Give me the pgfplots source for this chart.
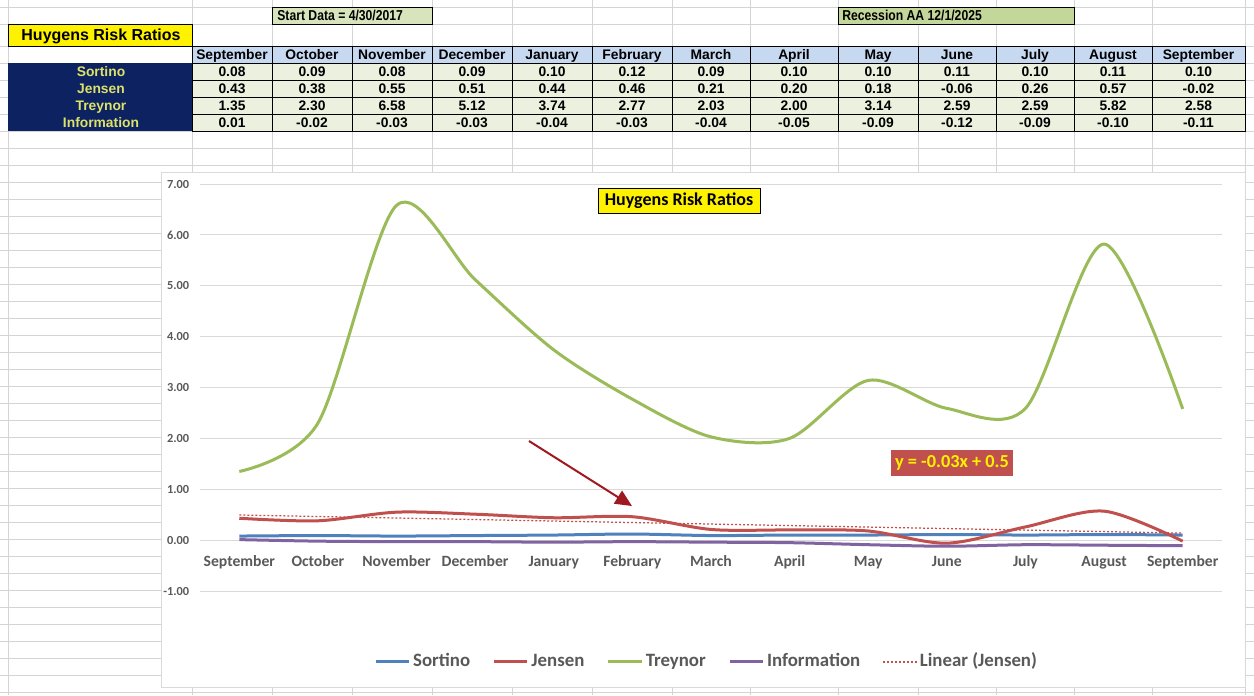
\documentclass[border=0pt]{standalone}
\usepackage{fontspec}
\setmainfont{Carlito}
\newfontfamily\arial{Liberation Sans}
\newfontfamily\arialn{Liberation Sans}[FakeStretch=0.85]
\usepackage{pgfplots}
\pgfplotsset{compat=1.18}
\usetikzlibrary{arrows.meta}

\definecolor{sortino}{HTML}{4F81BD}
\definecolor{jensen}{HTML}{C0504D}
\definecolor{treynor}{HTML}{9BBB59}
\definecolor{info}{HTML}{8064A2}
\definecolor{cellgrid}{HTML}{D4D4D4}
\definecolor{navy}{HTML}{0D2260}
\definecolor{lblyellow}{HTML}{DDE26A}
\definecolor{hdrblue}{HTML}{C6D9F0}
\definecolor{cellgreen}{HTML}{EBF1DE}
\definecolor{boxgreenA}{HTML}{D8E4BC}
\definecolor{boxgreenB}{HTML}{C4D79B}
\definecolor{axgray}{HTML}{595959}
\definecolor{gridgray}{HTML}{D9D9D9}
\definecolor{arrowred}{HTML}{A01820}

\newcommand\cellfont{\arial\bfseries\fontsize{8.3}{9}\selectfont}
% one row of the sheet table: top y (px), fill, values
\newcommand\tablerow[3]{%
  \foreach \v [count=\i] in {#3} {%
    \pgfmathsetmacro\xl{{192,272,352,432,512,592,672,750,838,918,996,1074,1152}[\i-1]}%
    \pgfmathsetmacro\xr{{272,352,432,512,592,672,750,838,918,996,1074,1152,1245}[\i-1]}%
    \draw[black, line width=0.6pt, fill=#2] (\xl,#1) rectangle (\xr,#1+17);
    \node[font=\cellfont, anchor=base, inner sep=0pt] at ({(\xl+\xr)/2},#1+13.4) {\v};
  }}

\begin{document}
\begin{tikzpicture}
% spreadsheet, in pixel units (y downwards)
\begin{scope}[x=0.6pt,y=-0.6pt]
\path[use as bounding box] (0,0) rectangle (1254,695);
\fill[white] (0,0) rectangle (1254,695);
\foreach \yy in {7,24,46,63,...,692}
  \draw[cellgrid, line width=0.6pt] (0,\yy) -- (1254,\yy);
\foreach \xx in {8,192,272,352,432,512,592,672,750,838,918,996,1074,1152,1245}
  \draw[cellgrid, line width=0.6pt] (\xx,0) -- (\xx,695);

\draw[black, line width=0.6pt, fill=boxgreenA] (272,7) rectangle (432,24);
\node[anchor=base west, inner sep=0pt, font=\arialn\bfseries\fontsize{8.6}{9}\selectfont] at (277,20.5) {Start Data = 4/30/2017};
\draw[black, line width=0.6pt, fill=boxgreenB] (838,7) rectangle (1074,24);
\node[anchor=base west, inner sep=0pt, font=\arialn\bfseries\fontsize{8.6}{9}\selectfont] at (842,20.5) {Recession AA 12/1/2025};

\draw[black, line width=0.6pt, fill=yellow] (8,24) rectangle (192,46);
\node[anchor=base, inner sep=0pt, font=\arial\bfseries\fontsize{9.6}{11}\selectfont] at (101,40.5) {Huygens Risk Ratios};

\fill[navy] (8,63) rectangle (192,131);
\foreach \lab [count=\i] in {Sortino,Jensen,Treynor,Information}
  \node[font=\cellfont, text=lblyellow, anchor=base, inner sep=0pt] at (101,63+17*\i-3.6) {\lab};

\tablerow{46}{hdrblue}{September,October,November,December,January,February,March,April,May,June,July,August,September}
\tablerow{63}{cellgreen}{0.08,0.09,0.08,0.09,0.10,0.12,0.09,0.10,0.10,0.11,0.10,0.11,0.10}
\tablerow{80}{cellgreen}{0.43,0.38,0.55,0.51,0.44,0.46,0.21,0.20,0.18,-0.06,0.26,0.57,-0.02}
\tablerow{97}{cellgreen}{1.35,2.30,6.58,5.12,3.74,2.77,2.03,2.00,3.14,2.59,2.59,5.82,2.58}
\tablerow{114}{cellgreen}{0.01,-0.02,-0.03,-0.03,-0.04,-0.03,-0.04,-0.05,-0.09,-0.12,-0.09,-0.10,-0.11}

% chart area
\draw[gridgray, fill=white, line width=0.6pt] (161,172) rectangle (1245,687);
\end{scope}

\begin{axis}[
    at={(120pt,-354.6pt)}, anchor=south west,
    width=613.2pt, height=244.2pt, scale only axis,
    xmin=0.5, xmax=13.5, ymin=-1, ymax=7,
    xtick={1,...,13},
    xticklabels={September,October,November,December,January,February,March,April,May,June,July,August,September},
    ytick={-1,0,...,7},
    /pgf/number format/assume math mode=true,
    yticklabel style={/pgf/number format/fixed, /pgf/number format/fixed zerofill,
        /pgf/number format/precision=2, font=\bfseries\fontsize{7.4}{9}\selectfont, text=axgray, xshift=-3pt},
    xticklabel style={font=\bfseries\fontsize{9.4}{11}\selectfont, text=axgray, anchor=center,
        text height=6.6pt, text depth=0pt, yshift=18pt},
    ymajorgrids, grid style={gridgray, line width=0.6pt},
    axis line style={draw=none}, major tick style={draw=none},
    clip=false,
    legend style={at={(0.496,-0.1744)}, anchor=center, draw=none, fill=none,
        legend columns=5, font=\bfseries\fontsize{11.3}{13}\selectfont, text=axgray,
        nodes={inner xsep=1.5pt, text height=8pt, text depth=2pt},
        /tikz/every even column/.append style={column sep=12pt}},
    legend image code/.code={\draw[#1] (0pt,0pt) -- (20pt,0pt);},
]
\addplot[sortino, line width=1.8pt, smooth] coordinates {
  (1,0.08) (2,0.09) (3,0.08) (4,0.09) (5,0.10) (6,0.12) (7,0.09) (8,0.10) (9,0.10) (10,0.11) (11,0.10) (12,0.11) (13,0.10)};
\addlegendentry{Sortino}
\addplot[jensen, line width=1.8pt, smooth] coordinates {
  (1,0.43) (2,0.38) (3,0.55) (4,0.51) (5,0.44) (6,0.46) (7,0.21) (8,0.20) (9,0.18) (10,-0.06) (11,0.26) (12,0.57) (13,-0.02)};
\addlegendentry{Jensen}
\addplot[treynor, line width=1.8pt, smooth] coordinates {
  (1,1.35) (2,2.30) (3,6.58) (4,5.12) (5,3.74) (6,2.77) (7,2.03) (8,2.00) (9,3.14) (10,2.59) (11,2.59) (12,5.82) (13,2.58)};
\addlegendentry{Treynor}
\addplot[info, line width=1.8pt, smooth] coordinates {
  (1,0.01) (2,-0.02) (3,-0.03) (4,-0.03) (5,-0.04) (6,-0.03) (7,-0.04) (8,-0.05) (9,-0.09) (10,-0.12) (11,-0.09) (12,-0.10) (13,-0.11)};
\addlegendentry{Information}
\addplot[jensen, line width=0.75pt, dash pattern=on 1.2pt off 1.2pt] coordinates {(1,0.494) (13,0.138)};
\addlegendentry{Linear (Jensen)}
\end{axis}

% annotations, in pixel units
\begin{scope}[x=0.6pt,y=-0.6pt]
\node[draw=black, fill=yellow, line width=0.6pt, inner sep=0pt,
      minimum width=97.2pt, minimum height=15pt,
      font=\bfseries\fontsize{10.8}{12}\selectfont] at (679,200.5) {Huygens Risk Ratios};
\node[fill=jensen, text=yellow, inner sep=0pt, minimum width=73.2pt, minimum height=15.6pt,
      font=\bfseries\fontsize{11}{13}\selectfont] at (952,463) {y = -0.03x + 0.5};
\draw[arrowred, line width=1.2pt, -{Triangle[length=10pt,width=9pt]}] (529,441) -- (632,506);
\end{scope}
\end{tikzpicture}
\end{document}
